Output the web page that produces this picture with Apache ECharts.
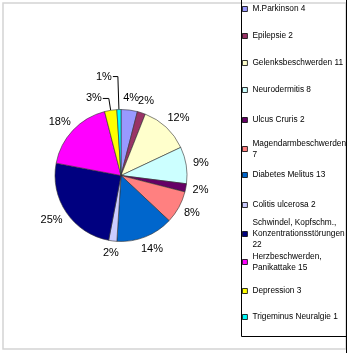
<!DOCTYPE html>
<html>
<head>
<meta charset="utf-8">
<script src="https://cdn.jsdelivr.net/npm/echarts@6/dist/echarts.min.js"></script>
<style>html,body{margin:0;padding:0;background:#fff}#c{width:350px;height:353px}</style>
</head>
<body>
<div id="c"></div>
<script>
// Legend labels (as printed in the legend)
var legendNames = [
  'M.Parkinson 4',
  'Epilepsie 2',
  'Gelenksbeschwerden 11',
  'Neurodermitis 8',
  'Ulcus Cruris 2',
  'Magendarmbeschwerden\n7',
  'Diabetes Melitus 13',
  'Colitis ulcerosa 2',
  'Schwindel, Kopfschm.,\nKonzentrationsstörungen\n22',
  'Herzbeschwerden,\nPanikattake 15',
  'Depression 3',
  'Trigeminus Neuralgie 1'
];
// Slice shares in percent (as labelled on the pie)
var percentValues = [4, 2, 12, 9, 2, 8, 14, 2, 25, 18, 3, 1];
var sliceColors = ['#9999FF', '#993366', '#FFFFCC', '#CCFFFF', '#660066', '#FF8080',
                   '#0066CC', '#CCCCFF', '#000080', '#FF00FF', '#FFFF00', '#00FFFF'];
// first-line centre y of each legend entry
var legendY = [9, 36, 63, 90, 120, 149, 175, 205, 234, 262, 291, 317];

var FONT = 'Arial, "Liberation Sans", sans-serif';
var LH = 11;
var CX = 121, CY = 175.5, R = 66, GAP = 7;

var total = percentValues.reduce(function (a, b) { return a + b; }, 0);
var midAngles = [];
(function () {
  var cum = 0;
  percentValues.forEach(function (v) {
    midAngles.push((cum + v / 2) / total * 2 * Math.PI);
    cum += v;
  });
})();

var data = legendNames.map(function (n, i) {
  var d = { name: n, value: percentValues[i], itemStyle: { color: sliceColors[i] } };
  if (i === 11) d.labelLine = { show: true, length: 33, length2: 5 };
  if (i === 10) d.labelLine = { show: true, length: 12, length2: 6 };
  return d;
});

var legends = legendNames.map(function (n, i) {
  var lines = n.split('\n').length;
  return {
    data: [n],
    orient: 'vertical',
    left: 242,
    top: legendY[i] - LH / 2 - (lines - 1) * LH,
    padding: 0,
    itemWidth: 5,
    itemHeight: 5,
    icon: 'rect',
    selectedMode: false,
    itemStyle: { borderColor: '#000', borderWidth: 0.8 },
    textStyle: {
      fontFamily: FONT, fontSize: 8.3, color: '#000', lineHeight: LH,
      padding: [(lines - 1) * LH, 0, 0, 0]
    }
  };
});

var chart = echarts.init(document.getElementById('c'), null, { renderer: 'canvas' });
chart.setOption({
  animation: false,
  backgroundColor: '#fff',
  legend: legends,
  graphic: [
    { type: 'rect', shape: { x: 3, y: 3, width: 343, height: 346 },
      style: { fill: 'none', stroke: '#d4d4d4', lineWidth: 1.5 }, z: 0 },
    { type: 'polyline', shape: { points: [[241.5, -2], [241.5, 336.5], [346.5, 336.5]] },
      style: { fill: 'none', stroke: '#000', lineWidth: 1 }, z: 1 },
    { type: 'line', shape: { x1: 346.5, y1: -2, x2: 346.5, y2: 355 },
      style: { stroke: '#000', lineWidth: 1 }, z: 1 }
  ],
  series: [{
    type: 'pie',
    center: [CX, CY],
    radius: R,
    startAngle: 90,
    clockwise: true,
    avoidLabelOverlap: false,
    data: data,
    itemStyle: { borderColor: '#333', borderWidth: 0.6 },
    label: {
      show: true, position: 'outside', formatter: '{c}%',
      fontFamily: FONT, fontSize: 11, color: '#000', distanceToLabelLine: 1
    },
    labelLine: { show: false, length: 7, length2: 3, lineStyle: { color: '#000', width: 1 } },
    labelLayout: function (p) {
      var i = p.dataIndex;
      if (i === 10 || i === 11) return { hideOverlap: false };
      var a = midAngles[i];
      var ux = Math.sin(a), uy = -Math.cos(a);
      var w = p.labelRect.width, h = p.labelRect.height;
      var ax = CX + ux * (R + GAP), ay = CY + uy * (R + GAP);
      var cx = ax + ux * w / 2, cy = ay + uy * h / 2;
      return { x: cx, y: cy, align: 'center', verticalAlign: 'middle', hideOverlap: false };
    },
    emphasis: { disabled: true }
  }]
});
</script>
</body>
</html>
